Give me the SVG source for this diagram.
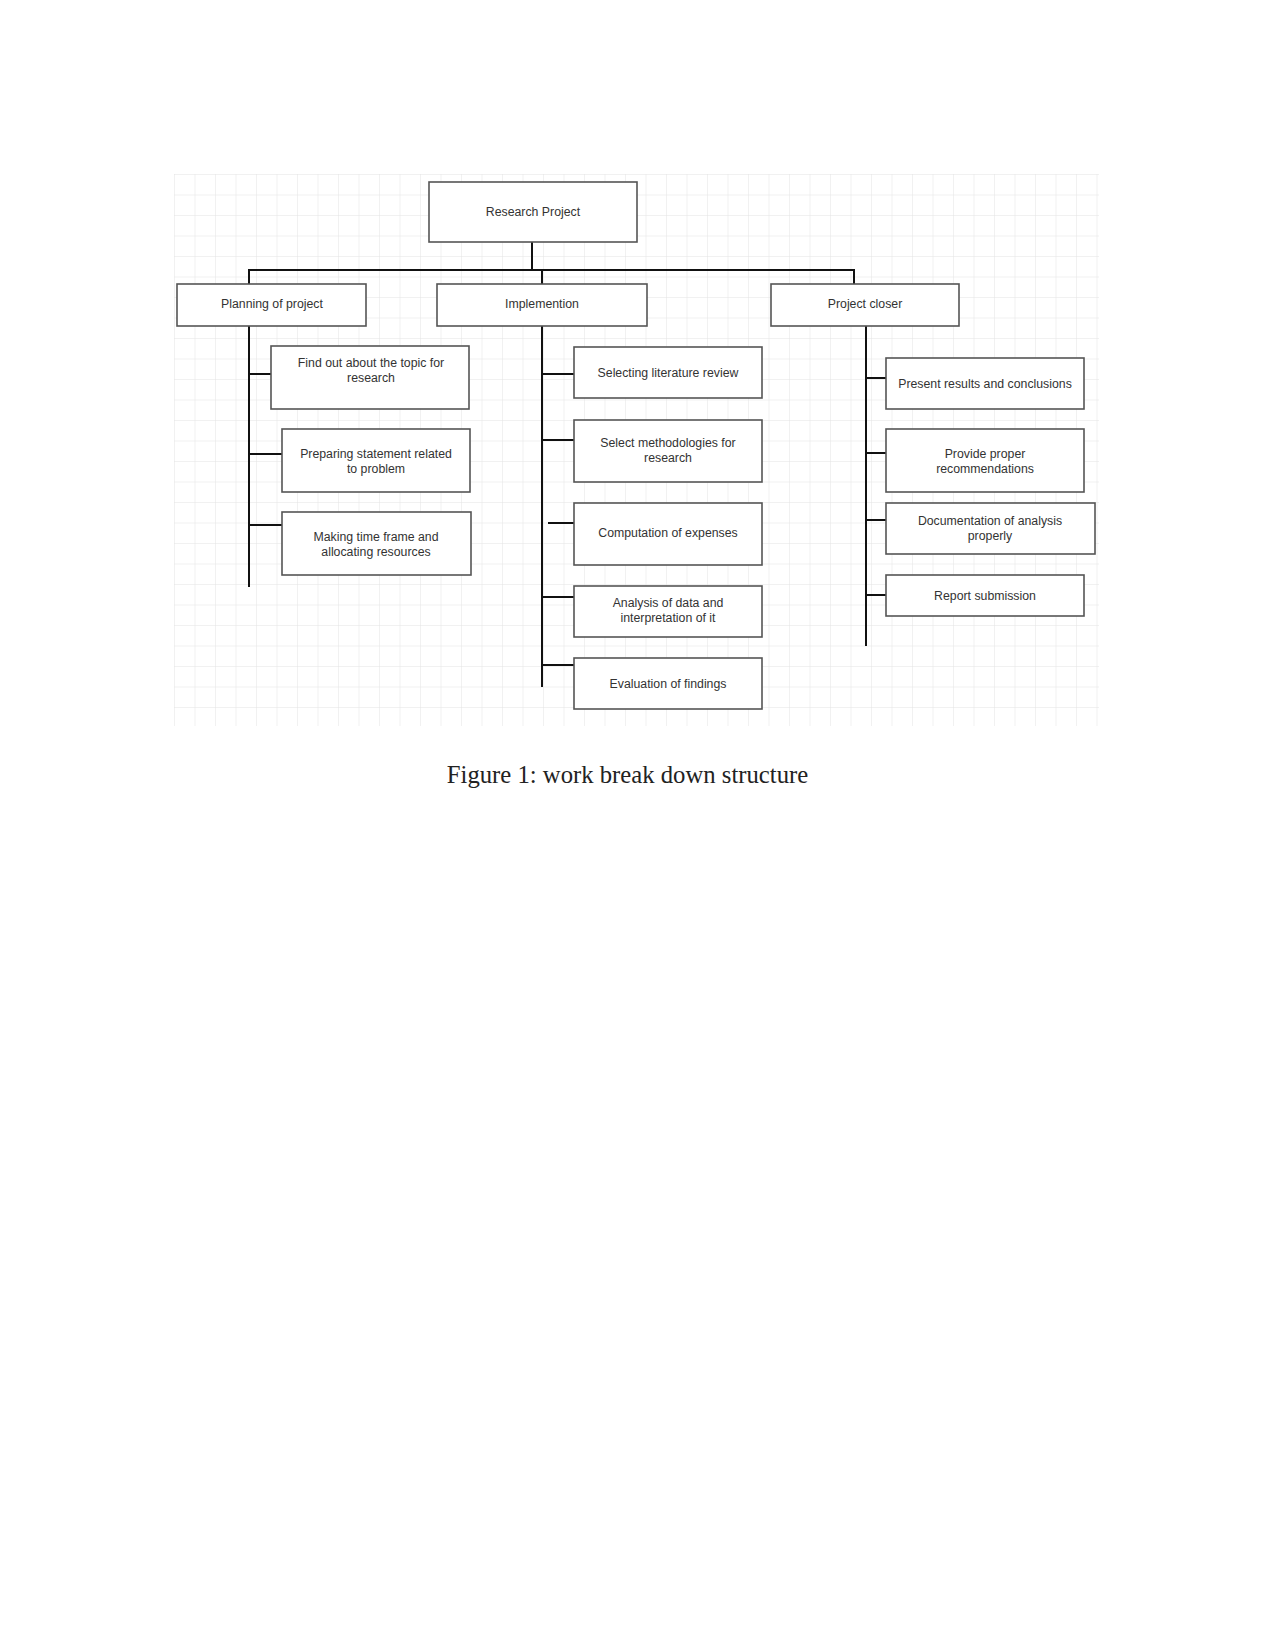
<svg xmlns="http://www.w3.org/2000/svg" width="1275" height="1650" viewBox="0 0 1275 1650">
<style>
.box{fill:#ffffff;stroke:#555555;stroke-width:1.6}
.lbl{font-family:"Liberation Sans",Arial,sans-serif;font-size:12.3px;fill:#333333;text-anchor:middle;dominant-baseline:central}
.con{stroke:#111111;stroke-width:2;fill:none}
.cap{font-family:"Liberation Serif","Times New Roman",serif;font-size:24.7px;fill:#222222;text-anchor:middle}
</style>
<defs>
<pattern id="grid" x="174" y="174" width="20.5" height="20.5" patternUnits="userSpaceOnUse">
<path d="M0 0 H20.5 M0 0 V20.5" stroke="#e4e4e4" stroke-width="1" fill="none"/>
</pattern>
</defs>
<rect width="1275" height="1650" fill="#ffffff"/>
<rect x="174" y="174" width="925" height="552" fill="url(#grid)"/>
<g id="connectors">
<path class="con" d="M532 242 V270 M249 284 V270 H854 V284 M542 270 V284"/>
<path class="con" d="M249 326 V587 M249 374 H271 M249 454 H282 M249 525 H282"/>
<path class="con" d="M542 326 V687 M542 374 H574 M542 440 H574 M548 523 H574 M542 597 H574 M542 665 H574"/>
<path class="con" d="M866 326 V646 M866 378 H886 M866 453 H886 M866 520 H886 M866 595 H886"/>
</g>
<g id="n-root"><rect class="box" x="429" y="182" width="208" height="60"/><text class="lbl" x="533" y="212">Research Project</text></g>
<g id="n-planning"><rect class="box" x="177" y="284" width="189" height="42"/><text class="lbl" x="272" y="304">Planning of project</text></g>
<g id="n-impl"><rect class="box" x="437" y="284" width="210" height="42"/><text class="lbl" x="542" y="304">Implemention</text></g>
<g id="n-closer"><rect class="box" x="771" y="284" width="188" height="42"/><text class="lbl" x="865" y="304">Project closer</text></g>
<g id="n-p1"><rect class="box" x="271" y="346" width="198" height="63"/><text class="lbl" x="371" y="363">Find out about the topic for</text><text class="lbl" x="371" y="378">research</text></g>
<g id="n-p2"><rect class="box" x="282" y="429" width="188" height="63"/><text class="lbl" x="376" y="454">Preparing statement related</text><text class="lbl" x="376" y="468.5">to problem</text></g>
<g id="n-p3"><rect class="box" x="282" y="512" width="189" height="63"/><text class="lbl" x="376" y="537">Making time frame and</text><text class="lbl" x="376" y="552">allocating resources</text></g>
<g id="n-i1"><rect class="box" x="574" y="347" width="188" height="51"/><text class="lbl" x="668" y="373">Selecting literature review</text></g>
<g id="n-i2"><rect class="box" x="574" y="420" width="188" height="62"/><text class="lbl" x="668" y="443">Select methodologies for</text><text class="lbl" x="668" y="458">research</text></g>
<g id="n-i3"><rect class="box" x="574" y="503" width="188" height="62"/><text class="lbl" x="668" y="533">Computation of expenses</text></g>
<g id="n-i4"><rect class="box" x="574" y="586" width="188" height="51"/><text class="lbl" x="668" y="603">Analysis of data and</text><text class="lbl" x="668" y="618">interpretation of it</text></g>
<g id="n-i5"><rect class="box" x="574" y="658" width="188" height="51"/><text class="lbl" x="668" y="683.5">Evaluation of findings</text></g>
<g id="n-c1"><rect class="box" x="886" y="358" width="198" height="51"/><text class="lbl" x="985" y="383.5">Present results and conclusions</text></g>
<g id="n-c2"><rect class="box" x="886" y="429" width="198" height="63"/><text class="lbl" x="985" y="454">Provide proper</text><text class="lbl" x="985" y="469">recommendations</text></g>
<g id="n-c3"><rect class="box" x="886" y="503" width="209" height="51"/><text class="lbl" x="990" y="521">Documentation of analysis</text><text class="lbl" x="990" y="536">properly</text></g>
<g id="n-c4"><rect class="box" x="886" y="575" width="198" height="41"/><text class="lbl" x="985" y="595.5">Report submission</text></g>
<text class="cap" x="627.5" y="783">Figure 1: work break down structure</text>
</svg>
